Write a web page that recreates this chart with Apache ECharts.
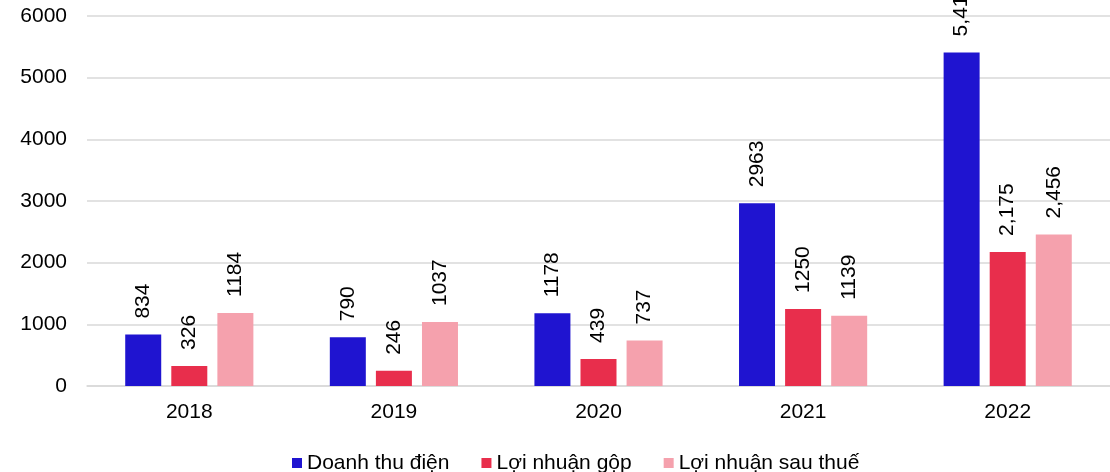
<!DOCTYPE html>
<html>
<head>
<meta charset="utf-8">
<script src="https://cdn.jsdelivr.net/npm/echarts@6/dist/echarts.min.js"></script>
<style>
  html,body{margin:0;padding:0;background:#fff;}
  #main{width:1110px;height:472px;}
</style>
</head>
<body>
<div id="main"></div>
<script>
// số liệu
const years = ['2018', '2019', '2020', '2021', '2022'];
const doanhThu = [834, 790, 1178, 2963, 5410];
const loiNhuanGop = [326, 246, 439, 1250, 2175];
const loiNhuanSauThue = [1184, 1037, 737, 1139, 2456];
// nhãn hiển thị (năm 2022 có dấu phẩy)
const doanhThuLabels = ['834', '790', '1178', '2963', '5,410'];
const gopLabels = ['326', '246', '439', '1250', '2,175'];
const sauThueLabels = ['1184', '1037', '737', '1139', '2,456'];
const yTicks = [0, 1000, 2000, 3000, 4000, 5000, 6000];

const FONT = "'Liberation Sans', Arial, sans-serif";

function barSeries(name, data, labels, color){
    return {
        name: name,
        type: 'bar',
        barWidth: 36,
        barGap: '28%',
        itemStyle: {color: color},
        label: {
            show: true,
            position: 'top',
            rotate: 90,
            align: 'left',
            verticalAlign: 'middle',
            distance: 16,
            fontFamily: FONT,
            fontSize: 21,
            color: '#000',
            formatter: p => labels[p.dataIndex]
        },
        data: data
    };
}

const chart = echarts.init(document.getElementById('main'));
chart.setOption({
    animation: false,
    grid: {
        left: 87,
        right: 0,
        top: 16,
        bottom: 86
    },
    legend: {
        left: 287,
        top: 445,
        itemWidth: 10,
        itemHeight: 10,
        itemGap: 32,
        icon: 'rect',
        textStyle: {fontFamily: FONT, fontSize: 21, color: '#000', lineHeight: 26},
        data: ['Doanh thu điện', 'Lợi nhuận gộp', 'Lợi nhuận sau thuế']
    },
    xAxis: {
        type: 'category',
        data: years,
        axisLine: {lineStyle: {color: '#d9d9d9', width: 1.5}},
        axisTick: {show: false},
        axisLabel: {fontFamily: FONT, fontSize: 21, color: '#000', margin: 16}
    },
    yAxis: {
        type: 'value',
        min: yTicks[0],
        max: yTicks[yTicks.length - 1],
        interval: 1000,
        axisLine: {show: false},
        axisTick: {show: false},
        splitLine: {lineStyle: {color: '#d9d9d9', width: 1.5}},
        axisLabel: {
            fontFamily: FONT, fontSize: 21, color: '#000', margin: 20,
            formatter: v => String(v)
        }
    },
    series: [
        barSeries('Doanh thu điện', doanhThu, doanhThuLabels, '#1f14d0'),
        barSeries('Lợi nhuận gộp', loiNhuanGop, gopLabels, '#e82e4c'),
        barSeries('Lợi nhuận sau thuế', loiNhuanSauThue, sauThueLabels, '#f5a1ad')
    ]
});
</script>
</body>
</html>
